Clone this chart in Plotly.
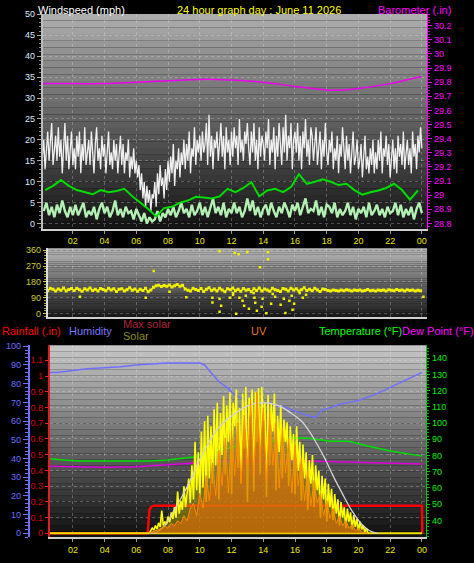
import plotly.graph_objects as go

# ------------------------------------------------------------------ data
x_tick_hours = [2, 4, 6, 8, 10, 12, 14, 16, 18, 20, 22, 24]
x_tick_text = ["02", "04", "06", "08", "10", "12", "14", "16", "18", "20", "22", "00"]

# wind gust (mph), 5-minute samples
gust_mph = [
    16, 20, 13, 18, 22, 15, 19, 24, 14, 17, 21, 15,
    23, 16, 20, 12, 18, 24, 15, 21, 13, 19, 22, 14,
    18, 13, 21, 16, 22, 12, 19, 15, 23, 14, 17, 20,
    14, 22, 17, 12, 19, 23, 15, 18, 13, 21, 16, 19,
    12, 18, 22, 14, 17, 13, 20, 15, 19, 12, 16, 21,
    14, 19, 12, 17, 15, 20, 11, 16, 13, 18, 12, 15,
    11, 14, 8, 12, 6, 10, 4, 9, 5, 8, 3, 7,
    6, 10, 4, 12, 7, 14, 9, 11, 6, 13, 8, 15,
    10, 16, 12, 19, 9, 15, 13, 18, 11, 17, 14, 20,
    13, 19, 15, 22, 12, 18, 16, 23, 14, 20, 17, 21,
    15, 22, 17, 19, 24, 14, 26, 16, 21, 13, 20, 18,
    22, 15, 19, 24, 16, 21, 13, 23, 17, 20, 14, 22,
    16, 23, 18, 21, 14, 25, 17, 20, 15, 22, 19, 24,
    18, 14, 22, 17, 24, 15, 20, 13, 23, 16, 21, 19,
    15, 22, 18, 25, 14, 20, 17, 23, 13, 21, 16, 24,
    19, 14, 23, 17, 26, 15, 21, 18, 24, 13, 20, 22,
    17, 24, 15, 21, 13, 22, 18, 25, 16, 20, 14, 23,
    21, 15, 19, 23, 14, 18, 22, 13, 20, 16, 24, 17,
    14, 20, 17, 22, 13, 18, 15, 21, 12, 19, 16, 23,
    18, 13, 21, 15, 19, 12, 17, 22, 14, 16, 20, 13,
    15, 19, 11, 17, 21, 13, 16, 12, 18, 14, 20, 12,
    17, 13, 20, 15, 22, 12, 18, 16, 21, 14, 19, 11,
    15, 20, 13, 18, 12, 21, 16, 19, 14, 22, 13, 17,
    20, 14, 18, 12, 22, 16, 19, 13, 21, 17, 23, 18,
]
gust_hours = [(i + 1) / 12 for i in range(len(gust_mph))]

# wind speed (mph), 10-minute samples
wind_mph = [
    3, 5, 2, 4, 1.5, 4.5,  2.5, 5.5, 3, 1.5, 4, 2,
    4.5, 2, 3.5, 5, 1.5, 3,  2, 4, 1, 3.5, 5, 2.5,
    4, 1.5, 3, 5.5, 2, 3.5,  1.5, 4, 2.5, 3, 1, 3.5,
    2, 0.5, 2.5, 0, 1.5, 0.5,  1, 3, 0.5, 2.5, 1.5, 3.5,
    2, 4, 1.5, 3, 5, 2.5,  3.5, 1.5, 4.5, 2, 3, 5,
    2, 4, 1.5, 3.5, 6, 2.5,  4, 2, 5, 1.5, 3.5, 2.5,
    5, 2.5, 4, 1.5, 3, 6,  3, 5.5, 2, 4, 1.5, 3.5,
    4.5, 2, 5, 3, 1.5, 4,  2.5, 5, 3.5, 1.5, 4.5, 3,
    5, 2, 4, 6, 2.5, 3.5,  3, 5.5, 2, 4, 1.5, 4.5,
    4, 2.5, 5, 1.5, 3.5, 2,  3, 5, 2, 4, 1, 3.5,
    2.5, 4, 1.5, 5, 2, 3,  4.5, 2, 3.5, 1.5, 4, 2.5,
    3, 5, 2, 4.5, 1.5, 3.5,  2, 4, 1, 3.5, 5, 2.5,
]
wind_hours = [(i + 1) / 6 for i in range(len(wind_mph))]

# average wind (mph), half-hour samples
avg_wind_mph = [
    8, 9, 10.4, 9, 8, 7.5, 7, 8, 7.5, 7.8, 8.3, 6.5,
    5, 3.5, 1.7, 3.7, 4, 5, 5.5, 6.4, 6.2, 6, 6.5, 8.3,
    7.5, 8.5, 9.9, 6.5, 7.9, 8.3, 7.5, 8.7, 11.8, 9.5, 10, 10.6,
    10, 9.2, 9.5, 8, 6.9, 7.5, 7.9, 8.5, 9.5, 8, 5.7, 7.9,
]
avg_wind_hours = [(i + 0.5) / 2 for i in range(len(avg_wind_mph))]

baro_hours = [0.1, 2, 4, 6, 8, 10, 11, 12, 14, 16, 18, 19, 20, 22, 23, 24]
baro_inhg = [29.79, 29.79, 29.79, 29.80, 29.81, 29.82, 29.82, 29.815, 29.80,
             29.77, 29.745, 29.745, 29.755, 29.79, 29.815, 29.84]

# wind direction (degrees), 10-minute samples
dir_deg = [
    135, 142, 130, 145, 138, 128,  140, 133, 146, 129, 137, 143,
    131, 144, 136, 127, 141, 134,  146, 132, 139, 128, 143, 137,
    130, 145, 134, 141, 126, 138,  142, 129, 136, 147, 133, 140,
    127, 139, 131, 144, 125, 135,  150, 158, 162, 154, 160, 156,
    163, 152, 159, 165, 155, 161,  140, 133, 128, 145, 137, 131,
    143, 126, 138, 147, 132, 140,  128, 145, 135, 124, 141, 136,
    146, 130, 139, 127, 143, 133,  137, 125, 142, 131, 146, 129,
    140, 134, 127, 144, 136, 131,  126, 143, 138, 129, 145, 134,
    141, 128, 136, 147, 132, 139,  130, 144, 135, 126, 140, 137,
    132, 129, 135, 131, 128, 134,  130, 136, 133, 128, 135, 131,
    134, 129, 132, 137, 130, 133,  128, 135, 131, 134, 129, 136,
    133, 130, 137, 132, 135, 129,  136, 131, 134, 128, 133, 130,
]
dir_hours = [(i + 0.5) / 6 for i in range(len(dir_deg))]

dir_out_hours = [11.25, 12.2, 12.45, 13.0, 14.3, 14.3, 13.8, 7.1, 10.8, 11.25,
                 11.35, 11.25, 12.3, 12.7, 12.8, 13.1, 12.9, 13.6, 13.96, 14.2,
                 13.9, 14.5, 14.6, 15.1, 15.3, 15.4, 15.65, 15.85, 15.95, 16.5,
                 16.7, 12.1, 11.9, 13.45, 10.8, 12.5, 13.5, 14.75, 13.4, 12.1,
                 9.15, 2.45, 24.1, 6.6, 8.1, 16.3, 15.8]
dir_out_deg = [354, 344, 337, 351, 351, 309, 264, 243, 64, 84,
               45, 11, 0, 73, 45, 28, 101, 17, 84, 2,
               39, 56, 112, 51, 84, 4, 73, 22, 56, 90,
               107, 107, 90, 90, 90, 90, 62, 96, 118, 118,
               93, 96, 96, 90, 124, 118, 101]

humid_hours = [0.1, 1, 2, 2.9, 4, 5, 6, 6.7, 7.9, 9, 10, 10.3, 10.8, 11.2, 11.7,
               12.2, 12.7, 13.2, 13.8, 14.3, 14.8, 15.2, 15.8, 16.3, 16.8, 17.3,
               17.7, 18.2, 18.8, 19.4, 20, 21, 22, 23, 24]
humid_pct = [86, 86, 87, 88, 88.5, 89, 90, 90.5, 91, 91, 91, 90, 85, 81, 78,
             74, 72, 71, 69, 70, 68, 68, 66, 64.5, 63, 62,
             66, 67, 69, 70, 71, 74, 78, 82, 86]

temp_hours = [0.1, 1, 2.4, 4, 5, 6, 6.85, 8, 9.6, 10.3, 11, 12.3, 13, 14.2, 15,
              15.8, 16.9, 18.2, 19.4, 20.5, 22, 23, 24]
temp_f = [78.4, 77.5, 76.6, 76.6, 76.5, 76.6, 76.6, 77.2, 79, 80.5, 82.7, 85.7,
          86.5, 88, 89.5, 91, 90.6, 88.8, 88.8, 86, 82.7, 81, 79.6]

dew_hours = [0.1, 2, 4, 6, 6.85, 9, 10, 11, 12, 13.4, 15, 16.3, 18, 19.4, 21, 22.5, 24]
dew_f = [73.5, 73, 72.8, 73, 73.5, 74.5, 75.5, 76.6, 76.8, 76.6, 76.8, 76.6,
         76.3, 76, 75.8, 75.5, 74.8]

rain_hours = [0.1, 6.7, 6.75, 6.82, 6.95, 7.15, 24.0, 24.02]
rain_in = [0, 0, 0.05, 0.15, 0.17, 0.176, 0.176, 0]

maxsolar_hours = [6.85, 7.3, 7.8, 8.3, 8.9, 9.5, 10, 10.5, 11, 11.6, 12.3, 13, 14,
                  15, 15.7, 16.4, 16.9, 17.4, 17.9, 18.4, 19, 19.6, 20.2, 20.7, 21.2]
maxsolar_wm2 = [0, 10, 60, 160, 288, 430, 568, 680, 780, 860, 924, 975, 1000,
                975, 924, 860, 780, 680, 568, 440, 300, 170, 70, 20, 0]

# solar radiation (W/m2), 6-minute samples from 06:48
solar_wm2 = [
    0, 20, 40, 25, 60, 35, 80, 50, 175, 60,
    90, 70, 130, 85, 160, 110, 200, 120, 320, 150,
    250, 180, 360, 200, 290, 420, 230, 520, 260, 700,
    330, 620, 280, 780, 350, 860, 240, 900, 420, 820,
    380, 950, 520, 1000, 260, 920, 600, 1050, 450, 980,
    700, 1080, 300, 1000, 820, 1100, 500, 960, 380, 1070,
    650, 1120, 240, 1040, 900, 1100, 320, 1080, 700, 1110,
    450, 1120, 860, 1000, 280, 1060, 520, 990, 780, 1070,
    330, 900, 620, 980, 420, 870, 700, 850, 360, 820,
    560, 760, 300, 820, 480, 700, 250, 680, 420, 620,
    180, 560, 380, 600, 200, 520, 330, 480, 120, 440,
    260, 420, 90, 380, 200, 340, 100, 300, 150, 260,
    60, 240, 120, 200, 40, 190, 90, 160, 30, 140,
    50, 110, 20, 90, 30, 60, 10, 40, 0,
]
solar_hours = [6.8 + 0.1 * i for i in range(len(solar_wm2))]
solar_night_hours = [0.5, 6.8, 20.6, 24.0]
solar_night_wm2 = [0, 0, 0, 0]

# UV index, 12-minute samples from 06:48
uv_index = [
    0, 0.1, 0.2, 0.3, 0.4, 0.6, 0.4, 0.8, 0.6, 1.0,
    0.8, 1.4, 1.0, 2.0, 2.4, 1.4, 3.2, 2.0, 4.6, 2.6,
    5.6, 3.0, 6.6, 3.8, 7.6, 3.2, 8.2, 4.6, 8.8, 4.0,
    9.4, 5.2, 10.6, 4.6, 11.2, 6.2, 10.0, 4.2, 9.6, 5.4,
    8.8, 3.6, 8.4, 4.8, 7.6, 3.2, 7.0, 3.8, 6.0, 2.6,
    5.0, 2.2, 4.2, 2.4, 3.2, 1.4, 2.6, 1.2, 2.0, 0.8,
    1.4, 0.6, 1.0, 0.4, 0.7, 0.2, 0.4, 0.1, 0.05, 0,
]
uv_hours = [6.8 + 0.2 * i for i in range(len(uv_index))]

# ------------------------------------------------------------------ figure
W, H = 474, 563
FONT = "Liberation Sans, Arial, sans-serif"


def px_x(p):
    return p / W


def px_y(p):
    return 1 - p / H


fig = go.Figure()

# top panel
fig.add_trace(go.Scatter(x=gust_hours, y=gust_mph, mode="lines",
                         line=dict(color="#f0f0f0", width=1.3), xaxis="x", yaxis="y"))
fig.add_trace(go.Scatter(x=wind_hours, y=wind_mph, mode="lines",
                         line=dict(color="#b4f0b4", width=2.4), xaxis="x", yaxis="y"))
fig.add_trace(go.Scatter(x=avg_wind_hours, y=avg_wind_mph, mode="lines",
                         line=dict(color="#00dd00", width=2), xaxis="x", yaxis="y"))
fig.add_trace(go.Scatter(x=baro_hours, y=baro_inhg, mode="lines", line_shape="spline",
                         line=dict(color="#ee00ee", width=1.5), xaxis="x", yaxis="y2"))

# middle panel
fig.add_trace(go.Scatter(x=dir_hours, y=dir_deg, mode="lines+markers",
                         line=dict(color="#f0f000", width=1.5),
                         marker=dict(color="#f0f000", size=3, symbol="square"),
                         xaxis="x2", yaxis="y3"))
fig.add_trace(go.Scatter(x=dir_out_hours, y=dir_out_deg, mode="markers",
                         marker=dict(color="#f0f000", size=2.5, symbol="square"),
                         xaxis="x2", yaxis="y3"))

# bottom panel
fig.add_trace(go.Scatter(x=rain_hours, y=rain_in, mode="lines",
                         line=dict(color="#ff0000", width=2.5), xaxis="x3", yaxis="y5"))
fig.add_trace(go.Scatter(x=uv_hours, y=uv_index, mode="lines", fill="tozeroy",
                         fillcolor="rgba(215,110,10,0.7)",
                         line=dict(color="#ff8a00", width=1), xaxis="x3", yaxis="y9"))
fig.add_trace(go.Scatter(x=solar_night_hours, y=solar_night_wm2, mode="lines",
                         line=dict(color="#f0e000", width=2), xaxis="x3", yaxis="y8"))
fig.add_trace(go.Scatter(x=solar_hours, y=solar_wm2, mode="lines", fill="tozeroy",
                         fillcolor="rgba(215,205,0,0.4)",
                         line=dict(color="#ffff00", width=1.6), xaxis="x3", yaxis="y8"))
fig.add_trace(go.Scatter(x=maxsolar_hours, y=maxsolar_wm2, mode="lines", line_shape="spline",
                         line=dict(color="#d4d4d4", width=1.3), xaxis="x3", yaxis="y8"))
fig.add_trace(go.Scatter(x=humid_hours, y=humid_pct, mode="lines",
                         line=dict(color="#7070ff", width=1.5), xaxis="x3", yaxis="y6"))
fig.add_trace(go.Scatter(x=temp_hours, y=temp_f, mode="lines",
                         line=dict(color="#00e000", width=1.5), xaxis="x3", yaxis="y7"))
fig.add_trace(go.Scatter(x=dew_hours, y=dew_f, mode="lines",
                         line=dict(color="#e000e0", width=1.5), xaxis="x3", yaxis="y7"))

# gradient backgrounds
shapes = []


def gradient(xref, yref, top, bottom, n=32):
    for i in range(n):
        frac = (i + 0.5) / n
        g = int(round(bottom + (top - bottom) * frac))
        shapes.append(dict(type="rect", xref=xref, yref=yref, x0=0, x1=1,
                           y0=i / n, y1=(i + 1) / n, fillcolor=f"rgb({g},{g},{g})",
                           line=dict(width=0), layer="below"))


gradient("x domain", "y domain", 174, 18)
gradient("x2 domain", "y3 domain", 184, 26)
gradient("x3 domain", "y5 domain", 200, 14)

grid = dict(showgrid=True, gridcolor="rgba(235,235,235,0.28)", griddash="dot", gridwidth=1)

xcommon = dict(tickvals=x_tick_hours, ticktext=x_tick_text,
               tickfont=dict(color="#e8e800", size=9, family=FONT),
               ticks="outside", ticklen=3, tickcolor="#999999",
               showline=True, linecolor="#cfcfcf", linewidth=2, zeroline=False, **grid)

fig.update_layout(
    width=W, height=H, margin=dict(l=0, r=0, t=0, b=0),
    paper_bgcolor="black", plot_bgcolor="black", showlegend=False,
    font=dict(family=FONT, size=9, color="white"),
    shapes=shapes,
    xaxis=dict(domain=[px_x(43), px_x(428)], anchor="y", range=[0.113, 24.33], **xcommon),
    yaxis=dict(domain=[px_y(227), px_y(10)], anchor="x", range=[-1.2, 50.1],
               tick0=0, dtick=5, tickfont=dict(color="#dfe8ff", size=9),
               ticks="outside", ticklen=4, tickcolor="#aaaaaa",
               minor=dict(ticks="outside", ticklen=2, dtick=1, tickcolor="#888888"),
               showline=True, linecolor="#bbbbbb", linewidth=2, zeroline=False, **grid),
    yaxis2=dict(overlaying="y", side="right", anchor="x", range=[28.763, 30.284],
                tick0=28.8, dtick=0.1, tickfont=dict(color="#ff00ff", size=9),
                ticks="outside", ticklen=4, tickcolor="#ff00ff",
                minor=dict(ticks="outside", ticklen=2, dtick=0.02, tickcolor="#cc00cc"),
                showline=True, linecolor="#ff00ff", linewidth=1, showgrid=False, zeroline=False),
    xaxis2=dict(domain=[px_x(48), px_x(428)], anchor="y3", range=[0.43, 24.33],
                tickvals=x_tick_hours, showticklabels=False, ticks="",
                showline=True, linecolor="#cfcfcf", linewidth=2, zeroline=False, **grid),
    yaxis3=dict(domain=[px_y(316), px_y(247)], anchor="x2", range=[-17, 371],
                tickvals=[0, 90, 180, 270, 360], tickfont=dict(color="#cccc33", size=9),
                ticks="outside", ticklen=3, tickcolor="#cccc33",
                minor=dict(ticks="outside", ticklen=2, dtick=15, tickcolor="#aaaa33"),
                showline=True, linecolor="#dddddd", linewidth=2, zeroline=False, **grid),
    yaxis4=dict(overlaying="y3", side="right", anchor="x2", range=[-17, 371],
                tickvals=[0, 90, 180, 270, 360], ticktext=["N", "E", "S", "W", "N"],
                tickfont=dict(color="#ffff00", size=12), ticks="", ticklabelstandoff=12,
                showgrid=False, zeroline=False, showline=False),
    xaxis3=dict(domain=[px_x(50), px_x(427)], anchor="y5", range=[0.55, 24.26], **xcommon),
    yaxis5=dict(domain=[px_y(539), px_y(345)], anchor="x3", range=[-0.025, 1.195],
                tick0=0, dtick=0.1, tickfont=dict(color="#dd0000", size=9),
                ticks="outside", ticklen=3, tickcolor="#ff2020",
                showline=True, linecolor="#e02020", linewidth=2, zeroline=False, **grid),
    yaxis6=dict(overlaying="y5", anchor="free", position=px_x(29), side="left",
                range=[-2.1, 100.5], tick0=0, dtick=10,
                tickfont=dict(color="#6f6fff", size=9),
                ticks="outside", ticklen=5, tickcolor="#6f6fff",
                minor=dict(ticks="outside", ticklen=3, dtick=2, tickcolor="#6f6fff"),
                showline=True, linecolor="#6f6fff", linewidth=2, showgrid=False, zeroline=False),
    yaxis7=dict(overlaying="y5", side="right", anchor="x3", range=[29.6, 147.9],
                tickvals=[40, 50, 60, 70, 80, 90, 100, 110, 120, 130, 140],
                tickfont=dict(color="#00ee00", size=9),
                ticks="outside", ticklen=3, tickcolor="#00cc00",
                minor=dict(ticks="outside", ticklen=2, dtick=2, tickcolor="#00aa00"),
                showline=True, linecolor="#00cc00", linewidth=1, showgrid=False, zeroline=False),
    yaxis8=dict(overlaying="y5", anchor="x3", range=[-30, 1439], visible=False),
    yaxis9=dict(overlaying="y5", anchor="x3", range=[-0.31, 14.96], visible=False),
)

headers = [
    ("Windspeed (mph)", 36, 6, "#ffffff"),
    ("24 hour graph day : June 11 2026", 175, 6, "#ffff00"),
    ("Barometer (.in)", 377, 6, "#ff00ff"),
    ("Rainfall (.in)", 0, 331, "#ff0000"),
    ("Humidity", 67, 331, "#7777ff"),
    ("Max solar", 121, 323, "#b0203c"),
    ("Solar", 121, 336, "#8c8c20"),
    ("UV", 250, 331, "#e07820"),
    ("Temperature (°F)", 318, 331, "#00ff00"),
    ("Dew Point (°F)", 401, 331, "#ff00ff"),
]
for text, xp, yp, col in headers:
    fig.add_annotation(text=text, x=px_x(xp), y=px_y(yp), xref="paper", yref="paper",
                       xanchor="left", yanchor="middle", showarrow=False,
                       font=dict(family=FONT, size=11, color=col))

fig.write_html(
    "out.html",
    config={"displayModeBar": False},
    post_script="document.body.style.margin='0px';document.body.style.overflow='hidden';"
                "document.body.style.background='black';",
)
